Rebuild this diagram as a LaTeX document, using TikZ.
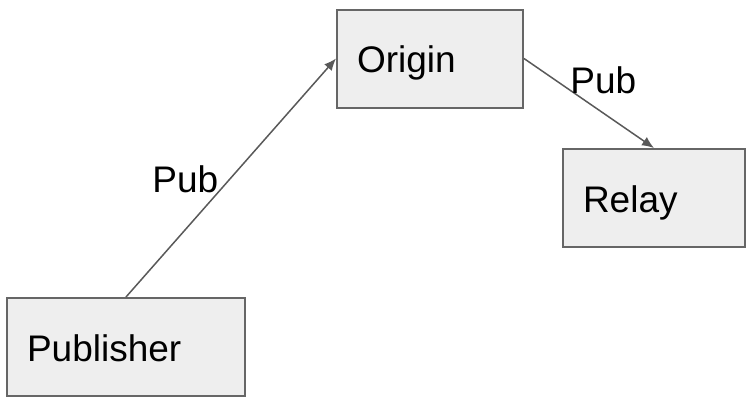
\documentclass[tikz,border=0pt]{standalone}
\usepackage{fontspec}
\setmainfont{Liberation Sans}
\usetikzlibrary{arrows.meta}
\definecolor{boxfill}{HTML}{EEEEEE}
\definecolor{boxline}{HTML}{666666}
\definecolor{arrowline}{HTML}{595959}

\begin{document}
\begin{tikzpicture}[x=0.5pt, y=-0.5pt, font=\fontsize{18.5pt}{22pt}\selectfont,
    box/.style={draw=boxline, fill=boxfill, line width=1pt, inner sep=0pt,
        minimum height=49pt, text height=14.4pt, text depth=0pt, align=left},
    link/.style={draw=arrowline, line width=0.75pt, -{Latex[length=6pt,width=5pt]}},
    tag/.style={anchor=base west, inner sep=0pt}]
    \useasboundingbox (0,0) rectangle (746,397);

    % Origin
    \node[box, minimum width=93pt, text width=73pt] (origin) at (430,58.5) {Origin};

    % Relay
    \node[box, minimum width=91pt, text width=71pt] (relay) at (654,198) {Relay};

    % Publisher
    \node[box, minimum width=119pt, text width=99pt] (publisher) at (126,347) {Publisher};

    % Connections
    \draw[link] (publisher.north) -- (origin.west);
    \node[tag] (pubup) at (152,192) {Pub};

    \draw[link] (origin.east) -- (relay.north);
    \node[tag] (pubdown) at (570,93) {Pub};

\end{tikzpicture}
\end{document}
